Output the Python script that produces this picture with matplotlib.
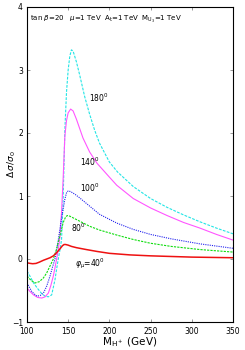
import matplotlib
matplotlib.use("Agg")
import matplotlib.pyplot as plt

# values, (M_H+ in GeV, delta sigma / sigma_0)
m_red = [100, 104, 107, 111, 115, 120, 124, 128, 132, 136, 140, 143, 145, 147, 150, 154, 160, 166, 172, 185, 200, 225, 250, 275, 300, 325, 350]
d_red = [-0.06, -0.07, -0.075, -0.07, -0.05, -0.02, 0.0, 0.02, 0.05, 0.10, 0.16, 0.21, 0.23, 0.23, 0.22, 0.20, 0.18, 0.165, 0.15, 0.12, 0.09, 0.065, 0.05, 0.04, 0.03, 0.025, 0.02]

m_green = [100, 105, 110, 115, 120, 124, 128, 132, 136, 140, 144, 147, 149, 152, 158, 164, 176, 188, 209, 229, 250, 275, 310, 350]
d_green = [-0.27, -0.34, -0.38, -0.36, -0.30, -0.22, -0.11, 0.0, 0.16, 0.37, 0.58, 0.67, 0.69, 0.68, 0.64, 0.60, 0.52, 0.46, 0.38, 0.31, 0.25, 0.20, 0.15, 0.11]

m_blue = [100, 106, 112, 116, 120, 124, 128, 131, 134, 138, 142, 146, 148, 150, 153, 158, 164, 176, 188, 209, 229, 250, 275, 310, 350]
d_blue = [-0.38, -0.52, -0.59, -0.58, -0.54, -0.43, -0.27, -0.13, 0.0, 0.30, 0.65, 0.95, 1.05, 1.08, 1.07, 1.03, 0.97, 0.84, 0.71, 0.57, 0.47, 0.39, 0.32, 0.24, 0.17]

m_mag = [100, 104, 108, 113, 118, 122, 126, 129, 132, 134, 136, 138, 140, 142, 144, 146, 148, 150, 153, 156, 160, 168, 176, 185, 200, 209, 229, 250, 270, 290, 310, 330, 350]
d_mag = [-0.46, -0.52, -0.57, -0.61, -0.62, -0.60, -0.54, -0.42, -0.27, -0.14, 0.0, 0.15, 0.35, 0.75, 1.3, 1.95, 2.20, 2.32, 2.38, 2.35, 2.22, 1.92, 1.70, 1.52, 1.30, 1.17, 0.96, 0.81, 0.69, 0.58, 0.49, 0.39, 0.30]

m_cyan = [100, 104, 108, 113, 118, 122, 126, 130, 134, 136, 138, 140, 142, 144, 146, 148, 150, 152, 154, 156, 160, 164, 170, 176, 182, 188, 200, 210, 229, 250, 270, 290, 310, 330, 350]
d_cyan = [-0.19, -0.28, -0.38, -0.47, -0.55, -0.59, -0.60, -0.57, -0.33, -0.16, 0.0, 0.14, 0.31, 1.0, 2.05, 2.65, 3.0, 3.22, 3.32, 3.30, 3.13, 2.92, 2.58, 2.30, 2.05, 1.84, 1.54, 1.38, 1.15, 0.96, 0.82, 0.70, 0.59, 0.49, 0.40]

x_ticks = [100, 150, 200, 250, 300, 350]
y_ticks = [-1, 0, 1, 2, 3, 4]

fig = plt.figure(figsize=(2.45, 3.5), dpi=100)
ax = fig.add_axes([0.110, 0.080, 0.841, 0.900])

ax.plot(m_cyan, d_cyan, color="#22e5e5", lw=0.8, dashes=(2.5, 1.2))
ax.plot(m_mag, d_mag, color="#ff55ff", lw=0.8)
ax.plot(m_blue, d_blue, color="#2222ee", lw=0.8, dashes=(1.0, 1.0))
ax.plot(m_green, d_green, color="#11dd11", lw=0.8, dashes=(2.0, 1.0))
ax.plot(m_red, d_red, color="#ee1111", lw=1.1)

ax.set_xlim(100, 350)
ax.set_ylim(-1, 4)
ax.set_xticks(x_ticks)
ax.set_yticks(y_ticks)
ax.tick_params(direction="in", length=2.5, width=0.6, color="#888888",
               top=True, right=True, labelsize=5.5)
ax.tick_params(axis="x", pad=3.5)
ax.tick_params(axis="y", pad=3)
for s in ax.spines.values():
    s.set_linewidth(0.8)

ax.set_xlabel(r"M$_{\rm H^+}$ (GeV)", fontsize=7.5, labelpad=0)
ax.set_ylabel(r"$\Delta\,\sigma/\sigma_0$", fontsize=6.5)
ax.yaxis.set_label_coords(-0.045, 0.5)

ax.text(104, 3.78, r"tan $\beta$=20   $\mu$=1 TeV  A$_{\rm t}$=1 TeV  M$_{\rm U_3}$=1 TeV", fontsize=5)
ax.text(175, 2.5, r"180$^0$", fontsize=5.5)
ax.text(164, 1.48, r"140$^0$", fontsize=5.5)
ax.text(164, 1.06, r"100$^0$", fontsize=5.5)
ax.text(154, 0.43, r"80$^0$", fontsize=5.5)
ax.text(158, -0.12, r"$\varphi_\mu$=40$^0$", fontsize=5.5)

fig.savefig("out.png", dpi=100)
